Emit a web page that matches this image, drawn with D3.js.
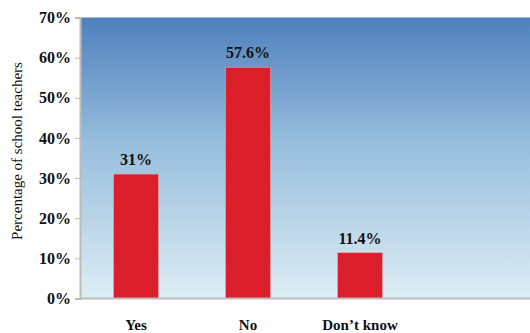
<!DOCTYPE html>
<html><head><meta charset="utf-8">
<script src="https://cdn.jsdelivr.net/npm/d3@7"></script>
<style>body{margin:0;background:#fff}svg{display:block}text{font-family:"Liberation Serif","Times New Roman","DejaVu Serif",serif}</style>
</head><body>
<script>
const categories = ["Yes", "No", "Don\u2019t know"];
const values = [31, 57.6, 11.4];
const valueLabels = ["31%", "57.6%", "11.4%"];
const yTicks = [0, 10, 20, 30, 40, 50, 60, 70];

const W = 530, H = 333;
const mLeft = 80, mRight = 530, mTop = 17.5, mBottom = 298.5;
const FONT = '"Liberation Serif","Times New Roman","DejaVu Serif",serif';
const svg = d3.select("body").append("svg").attr("width", W).attr("height", H);
const defs = svg.append("defs");
const g = defs.append("linearGradient").attr("id","bg").attr("x1",0).attr("y1",0).attr("x2",0).attr("y2",1);
g.append("stop").attr("offset","0%").attr("stop-color","#4f80bd");
g.append("stop").attr("offset","45%").attr("stop-color","#97bedd");
g.append("stop").attr("offset","100%").attr("stop-color","#deedf5");

const y = d3.scaleLinear().domain([0,70]).range([mBottom, mTop]);
const x = d3.scaleBand().domain(categories).range([mLeft, mLeft + 336]).paddingInner(0.6).paddingOuter(0.3);

svg.append("rect").attr("x", mLeft).attr("y", mTop).attr("width", mRight-mLeft).attr("height", mBottom-mTop).attr("fill","url(#bg)");

svg.selectAll("rect.bar").data(values).enter().append("rect").attr("class","bar")
  .attr("x",(d,i)=>x(categories[i])).attr("width",x.bandwidth())
  .attr("y",d=>y(d)).attr("height",d=>y(0)-y(d))
  .attr("fill","#da1f2a").attr("stroke","#e8a0a4").attr("stroke-width",0.6);

const yAxis = svg.append("g").attr("transform",`translate(${mLeft},0)`)
  .call(d3.axisLeft(y).tickValues(yTicks).tickFormat(d=>d+"%").tickSize(5).tickPadding(4));
yAxis.select(".domain").attr("stroke","#bcbcbc").attr("stroke-width",2);
yAxis.selectAll(".tick line").attr("stroke","#bcbcbc");
yAxis.selectAll("text").style("font-family",FONT).attr("font-size",16).attr("font-weight","bold").attr("fill","#111");

svg.append("line").attr("x1",mLeft).attr("x2",mRight).attr("y1",mBottom).attr("y2",mBottom).attr("stroke","#bcbcbc").attr("stroke-width",2);

svg.selectAll("text.val").data(values).enter().append("text").attr("class","val")
  .attr("x",(d,i)=>x(categories[i])+x.bandwidth()/2).attr("y",d=>y(d)-9)
  .attr("text-anchor","middle").style("font-family",FONT).attr("font-size",16).attr("font-weight","bold").attr("fill","#111")
  .text((d,i)=>valueLabels[i]);

svg.selectAll("text.cat").data(categories).enter().append("text").attr("class","cat")
  .attr("x",d=>x(d)+x.bandwidth()/2).attr("y",330)
  .attr("text-anchor","middle").style("font-family",FONT).attr("font-size",15).attr("font-weight","bold").attr("fill","#111")
  .text(d=>d);

svg.append("text").attr("transform",`translate(22,151) rotate(-90)`)
  .attr("text-anchor","middle").style("font-family",FONT).attr("font-size",15).attr("fill","#111")
  .text("Percentage of school teachers");
</script>
</body></html>
